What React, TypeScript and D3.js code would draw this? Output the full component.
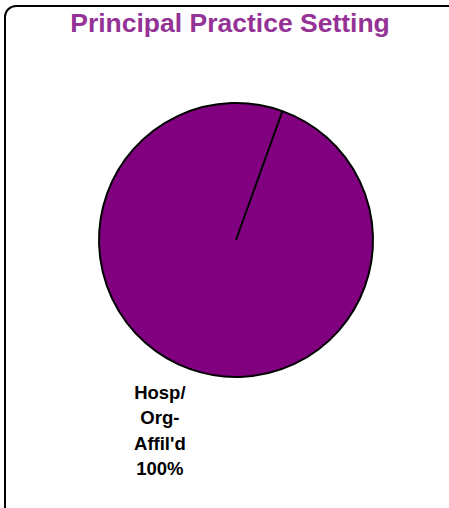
import React from "react";
import * as d3 from "d3";

const categories = ["Hosp/\nOrg-\nAffil'd"];
const values = [100];
const percentLabels = ["100%"];
const title = "Principal Practice Setting";

const W = 449;
const H = 508;
const cx = 236;
const cy = 240;
const R = 137;
const startDeg = 19.8;

export default function App() {
  const start = (startDeg * Math.PI) / 180;
  const pie = d3
    .pie<number>()
    .sort(null)
    .startAngle(start)
    .endAngle(start + 2 * Math.PI)(values);
  const arc = d3.arc<d3.PieArcDatum<number>>().innerRadius(0).outerRadius(R);
  const labelR = R * 1.49;

  return (
    <svg
      width={W}
      height={H}
      style={{ position: "absolute", left: 0, top: 0, display: "block" }}
      fontFamily="Arial, 'Liberation Sans', sans-serif"
    >
      <rect x={0} y={0} width={W} height={H} fill="#fff" />
      <rect
        x={5}
        y={6}
        width={460}
        height={512}
        rx={11}
        ry={11}
        fill="none"
        stroke="#000"
        strokeWidth={2}
      />
      <text
        x={230}
        y={31.5}
        textAnchor="middle"
        fontSize={26.5}
        fontWeight="bold"
        fill="#943296"
      >
        {title}
      </text>
      <g transform={`translate(${cx},${cy})`}>
        {pie.map((d, i) => {
          const mid = (d.startAngle + d.endAngle) / 2;
          const lx = labelR * Math.sin(mid) - 7;
          const ly = -labelR * Math.cos(mid);
          const lines = [...categories[i].split("\n"), percentLabels[i]];
          const lh = 25.5;
          const y0 = ly - ((lines.length - 1) * lh) / 2 + 5;
          return (
            <g key={i}>
              <path d={arc(d) || ""} fill="#800080" stroke="#000" strokeWidth={2} />
              <line
                x1={0}
                y1={0}
                x2={R * Math.sin(d.startAngle)}
                y2={-R * Math.cos(d.startAngle)}
                stroke="#000"
                strokeWidth={2}
              />
              <text textAnchor="middle" fontSize={18.5} fontWeight="bold" fill="#000">
                {lines.map((t, j) => (
                  <tspan key={j} x={lx} y={y0 + j * lh}>
                    {t}
                  </tspan>
                ))}
              </text>
            </g>
          );
        })}
      </g>
    </svg>
  );
}
